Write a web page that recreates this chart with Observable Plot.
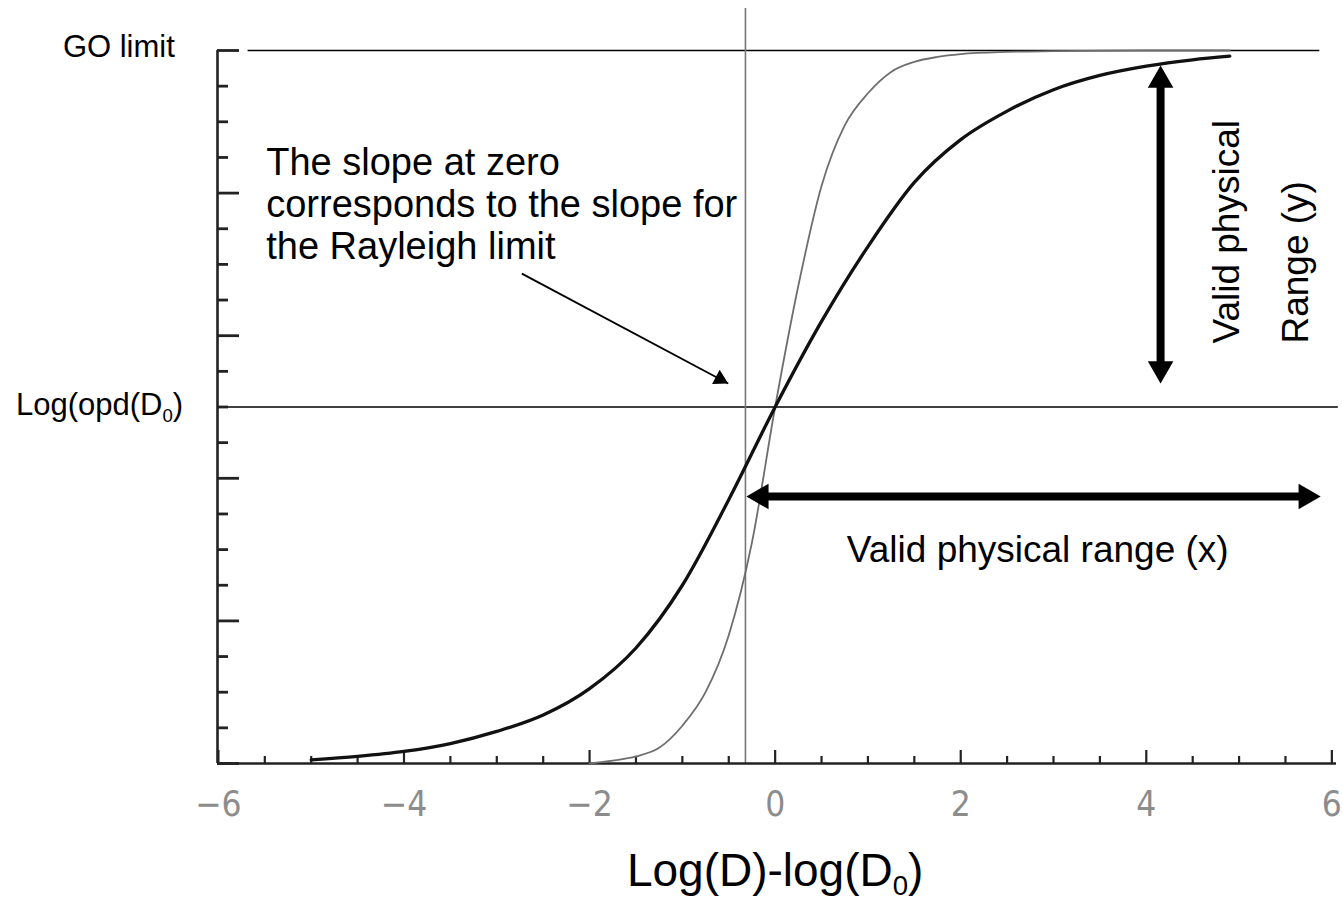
<!DOCTYPE html>
<html><head><meta charset="utf-8">
<script src="https://cdn.jsdelivr.net/npm/d3@7"></script>
<script src="https://cdn.jsdelivr.net/npm/@observablehq/plot@0.6"></script>
<style>html,body{margin:0;padding:0;background:#fff}#chart svg{display:block}</style>
</head><body><div id="chart"></div>
<script>
// ---- data ----
const thickX = [-5, -4.5, -4, -3.5, -3, -2.5, -2, -1.5, -1, -0.5, 0, 0.5, 1, 1.5, 2, 2.5, 3, 3.5, 4, 4.5, 4.9];
const thickY = [0.005, 0.01, 0.017, 0.028, 0.045, 0.068, 0.105, 0.162, 0.25, 0.37, 0.5, 0.62, 0.725, 0.815, 0.875, 0.915, 0.945, 0.965, 0.978, 0.987, 0.992];
const thinX = [-2, -1.75, -1.5, -1.25, -1, -0.75, -0.5, -0.25, 0, 0.25, 0.5, 0.75, 1, 1.25, 1.5, 1.75, 2, 2.5, 3, 4, 4.9];
const thinY = [0, 0.004, 0.01, 0.022, 0.053, 0.10, 0.18, 0.31, 0.5, 0.67, 0.81, 0.895, 0.94, 0.97, 0.984, 0.991, 0.995, 0.998, 0.999, 1, 1];

const xMajorTicks = [-6, -4, -2, 0, 2, 4, 6];
const xMinorTicks = [-5.5, -5, -4.5, -3.5, -3, -2.5, -1.5, -1, -0.5, 0.5, 1, 1.5, 2.5, 3, 3.5, 4.5, 5, 5.5];
const yMajorTicks = [0, 0.2, 0.4, 0.6, 0.8, 1];
const yMinorTicks = [0.05, 0.1, 0.15, 0.25, 0.3, 0.35, 0.45, 0.5, 0.55, 0.65, 0.7, 0.75, 0.85, 0.9, 0.95];

const goLimit = 1.0;          // GO limit level
const logOpdD0 = 0.5;         // Log(opd(D0)) level
const rayleighX = -0.32;      // vertical reference line
const xDomain = [-6.01, 6.05];
const yDomain = [0, 1];

// annotation anchors (data units)
const goLine = {x1: -5.68, x2: 5.87};
const opdLine = {x1: -6.01, x2: 6.07};
const vLine = {y1: 1.059, y2: 0};
const rangeXArrow = {x1: -0.31, x2: 5.88, y: 0.3745};
const rangeYArrow = {x: 4.154, y1: 0.979, y2: 0.533};
const slopeArrow = {x1: -2.73, y1: 0.687, x2: -0.506, y2: 0.533};
const labelGO = {x: -6.47, y: 1.0, text: "GO limit"};
const labelOpd = {x: -6.38, y: 0.5, text: "Log(opd(D0)"};
const slopeText = {x: -5.485, y: 0.867, text: "The slope at zero\ncorresponds to the slope for\nthe Rayleigh limit"};
const rangeXText = {x: 2.83, y: 0.283, text: "Valid physical range (x)"};
const rangeYText1 = {x: 5.0, y: 0.589, text: "Valid physical"};
const rangeYText2 = {x: 5.74, y: 0.589, text: "Range (y)"};
const xTitle = {x: 0.0, text: "Log(D)-log(D0)"};

// ---- layout ----
const W = 1342, H = 903;
const mTop = 50, mRight = 6, mBottom = 140, mLeft = 217;
const sx = Plot.scale({x: {domain: xDomain, range: [mLeft, W - mRight]}});
const sy = Plot.scale({y: {domain: yDomain, range: [H - mBottom, mTop]}});
const pdx = sx.apply(slopeArrow.x2) - sx.apply(slopeArrow.x1);
const pdy = sy.apply(slopeArrow.y2) - sy.apply(slopeArrow.y1);
const ang = Math.atan2(pdy, pdx);
const slopeRot = ang * 180 / Math.PI + 90;
const smallTip = 9.3;

const thick = thickX.map((x, i) => ({x, y: thickY[i]}));
const thin = thinX.map((x, i) => ({x, y: thinY[i]}));
const font = "'Liberation Sans', Arial, Helvetica, sans-serif";
const axisCol = "#222";

const chart = Plot.plot({
  width: W, height: H,
  marginTop: mTop, marginRight: mRight, marginBottom: mBottom, marginLeft: mLeft,
  x: {domain: xDomain, axis: null},
  y: {domain: yDomain, axis: null},
  style: {fontFamily: font, background: "#fff", color: "#000", overflow: "visible"},
  marks: [
    // reference lines
    Plot.ruleY([goLimit], {x1: goLine.x1, x2: goLine.x2, stroke: "#000", strokeWidth: 1.6}),
    Plot.ruleY([logOpdD0], {x1: opdLine.x1, x2: opdLine.x2, stroke: "#000", strokeWidth: 1.6}),
    Plot.ruleX([rayleighX], {y1: vLine.y1, y2: vLine.y2, stroke: "#777", strokeWidth: 1.6}),
    // axes frame
    Plot.ruleY([0], {x1: xDomain[0], x2: xDomain[1], stroke: axisCol, strokeWidth: 2.6}),
    Plot.ruleX([xDomain[0]], {y1: 1, y2: 0, stroke: axisCol, strokeWidth: 2.6}),
    // inward ticks
    Plot.ruleX(xMajorTicks, {x: d => d, y1: 0, y2: 0, insetTop: -13, stroke: axisCol, strokeWidth: 2.2}),
    Plot.ruleX(xMinorTicks, {x: d => d, y1: 0, y2: 0, insetTop: -7, stroke: axisCol, strokeWidth: 2.2}),
    Plot.ruleY(yMajorTicks, {y: d => d, x1: xDomain[0], x2: xDomain[0], insetRight: -22, stroke: axisCol, strokeWidth: 2.8}),
    Plot.ruleY(yMinorTicks, {y: d => d, x1: xDomain[0], x2: xDomain[0], insetRight: -11, stroke: axisCol, strokeWidth: 2.8}),
    Plot.axisX({ticks: xMajorTicks, tickSize: 0, tickPadding: 28, fontSize: 35, fill: "#8c8c8c",
      fontFamily: "'Liberation Sans Narrow', 'DejaVu Sans Condensed', sans-serif", fontWeight: 300, label: null}),
    // curves
    Plot.line(thin, {x: "x", y: "y", stroke: "#6e6e6e", strokeWidth: 1.8, curve: "monotone-x"}),
    Plot.line(thick, {x: "x", y: "y", stroke: "#111", strokeWidth: 3.3, curve: "monotone-x"}),
    // valid range (y) double arrow
    Plot.ruleX([rangeYArrow], {x: "x", y1: "y1", y2: "y2", insetTop: 14, insetBottom: 14, stroke: "#000", strokeWidth: 8}),
    Plot.dot([rangeYArrow], {x: "x", y: "y1", symbol: "triangle", r: 9.5, fill: "#000", stroke: "none", dy: 14.8}),
    Plot.dot([rangeYArrow], {x: "x", y: "y2", symbol: "triangle", r: 9.5, fill: "#000", stroke: "none", rotate: 180, dy: -14.8}),
    // valid range (x) double arrow
    Plot.ruleY([rangeXArrow], {y: "y", x1: "x1", x2: "x2", insetLeft: 14, insetRight: 14, stroke: "#000", strokeWidth: 8}),
    Plot.dot([rangeXArrow], {x: "x1", y: "y", symbol: "triangle", r: 9.5, fill: "#000", stroke: "none", rotate: -90, dx: 14.8}),
    Plot.dot([rangeXArrow], {x: "x2", y: "y", symbol: "triangle", r: 9.5, fill: "#000", stroke: "none", rotate: 90, dx: -14.8}),
    // slope annotation arrow
    Plot.link([slopeArrow], {x1: "x1", y1: "y1", x2: "x2", y2: "y2", stroke: "#000", strokeWidth: 1.8}),
    Plot.dot([slopeArrow], {x: "x2", y: "y2", symbol: "triangle", r: 6, fill: "#000", stroke: "none", rotate: slopeRot,
      dx: -Math.cos(ang) * smallTip, dy: -Math.sin(ang) * smallTip}),
    // texts
    Plot.text([labelGO], {x: "x", y: "y", text: "text", textAnchor: "end", lineAnchor: "bottom", dy: 6, fontSize: 31, fill: "#000"}),
    Plot.text([labelOpd], {x: "x", y: "y", text: "text", textAnchor: "end", lineAnchor: "bottom", dy: 8, fontSize: 31, fill: "#000"}),
    Plot.text([slopeText], {x: "x", y: "y", text: "text", textAnchor: "start", lineAnchor: "top", lineHeight: 1.1, fontSize: 38, fill: "#000"}),
    Plot.text([rangeXText], {x: "x", y: "y", text: "text", textAnchor: "middle", lineAnchor: "bottom", fontSize: 37, fill: "#000"}),
    Plot.text([rangeYText1], {x: "x", y: "y", text: "text", textAnchor: "start", lineAnchor: "bottom", rotate: -90, fontSize: 37, fill: "#000"}),
    Plot.text([rangeYText2], {x: "x", y: "y", text: "text", textAnchor: "start", lineAnchor: "bottom", rotate: -90, fontSize: 37, fill: "#000"}),
    Plot.text([xTitle], {x: "x", text: "text", frameAnchor: "bottom", lineAnchor: "bottom", dy: 122, fontSize: 46, fill: "#000"})
  ]
});

// subscript "0" in D0
chart.querySelectorAll("text").forEach(t => {
  const s = t.textContent;
  const k = s.lastIndexOf("D0");
  if (k < 0 || t.querySelector("tspan")) return;
  const before = s.slice(0, k + 1), after = s.slice(k + 2);
  const NS = "http://www.w3.org/2000/svg";
  t.textContent = "";
  const a = document.createElementNS(NS, "tspan"); a.textContent = before; t.appendChild(a);
  const b = document.createElementNS(NS, "tspan"); b.textContent = "0";
  b.setAttribute("font-size", "0.6em"); b.setAttribute("dy", "0.35em"); t.appendChild(b);
  const c = document.createElementNS(NS, "tspan"); c.textContent = after;
  c.setAttribute("dy", "-0.21em"); t.appendChild(c);
});

document.getElementById("chart").appendChild(chart);
</script>
</body></html>
